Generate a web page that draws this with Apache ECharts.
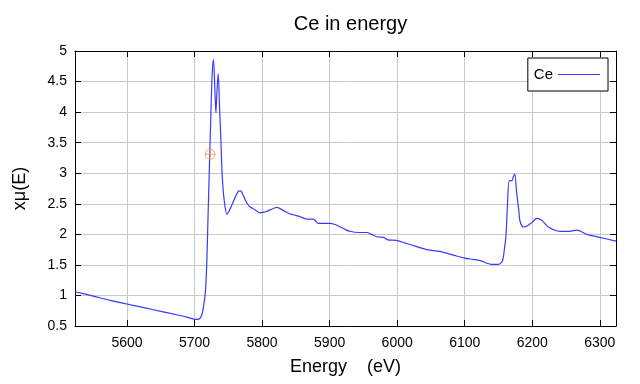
<!DOCTYPE html>
<html><head><meta charset="utf-8">
<script src="https://cdn.jsdelivr.net/npm/echarts@6/dist/echarts.min.js"></script>
<style>html,body{margin:0;padding:0;background:#fff}#c{width:640px;height:384px}</style>
</head><body><div id="c"></div>
<script>
const energy = [5523,5550,5575,5600,5625,5650,5675,5690,5700,5705,5710,5713,5716,5718,5720,5722,5724,5726,5728,5730,5731.6,5733,5735,5737,5739,5741,5744,5748,5752,5758,5764,5768,5772,5777,5782,5790,5797,5805,5812,5822,5830,5838,5846,5856,5866,5872,5876,5883,5891,5901,5908,5916,5923,5930,5943,5955,5962,5970,5980,5986,5999,6014,6029,6044,6063,6083,6100,6112,6123,6140,6150,6155,6157,6159,6161,6163,6166,6170,6172,6174,6177,6180,6182,6187,6193,6200,6207,6214,6224,6241,6255,6266,6281,6300,6324];
const mu = [1.06,0.99,0.92,0.86,0.80,0.74,0.68,0.64,0.61,0.61,0.66,0.80,1.05,1.5,2.3,3.1,3.9,4.6,4.86,4.4,3.99,4.3,4.63,4.1,3.54,2.95,2.55,2.33,2.40,2.55,2.69,2.71,2.64,2.52,2.45,2.40,2.35,2.37,2.40,2.44,2.40,2.35,2.32,2.29,2.25,2.25,2.25,2.18,2.18,2.18,2.16,2.12,2.08,2.05,2.03,2.03,2.00,1.96,1.95,1.91,1.90,1.85,1.80,1.75,1.72,1.66,1.61,1.59,1.57,1.51,1.51,1.55,1.61,1.78,1.96,2.4,2.88,2.88,2.94,2.99,2.67,2.40,2.21,2.12,2.14,2.20,2.26,2.23,2.12,2.05,2.05,2.07,2.00,1.95,1.89];
const markerE = [5723];
const markerMu = [3.31];
const seriesName = 'Ce';
const titleText = 'Ce in energy';
const xName = 'Energy    (eV)';
const yName = 'xμ(E)';

const lineData = energy.map((e,i)=>[e,mu[i]]);
const markData = markerE.map((e,i)=>[e,markerMu[i]]);
const font = 'Liberation Sans, Arial, sans-serif';
const chart = echarts.init(document.getElementById('c'));
const gridLine = {show:true, lineStyle:{color:'#c8c8c8', width:1}};
chart.setOption({
  animation:false,
  title:{text:titleText, left:345.5, top:9, textAlign:'center', textStyle:{fontFamily:font, fontSize:20, fontWeight:'normal', color:'#000'}},
  legend:{data:[seriesName], right:32, top:58, orient:'vertical', align:'right', backgroundColor:'#fff', borderColor:'#000', borderWidth:1, borderRadius:0, padding:[9,8,9,6], itemGap:0,
    icon:'rect', itemWidth:42, itemHeight:1, textStyle:{fontFamily:font, fontSize:15, color:'#000'}},
  grid:{left:75, right:24, top:51, bottom:58, containLabel:false},
  xAxis:[{type:'value', min:5523, max:6324, splitNumber:8, position:'bottom', name:xName, nameLocation:'middle', nameGap:32,
    nameTextStyle:{fontFamily:font, fontSize:18, color:'#000'},
    axisLine:{show:true, onZero:false, lineStyle:{color:'#000', width:1}},
    axisTick:{show:true, inside:true, length:6, lineStyle:{color:'#000'}},
    axisLabel:{fontFamily:font, fontSize:14, color:'#000', margin:10, showMinLabel:false, showMaxLabel:false, formatter:v=>String(v)},
    splitLine:gridLine},
   {type:'value', min:5523, max:6324, splitNumber:8, position:'top',
    axisLine:{show:true, onZero:false, lineStyle:{color:'#000', width:1}},
    axisTick:{show:true, inside:true, length:6, lineStyle:{color:'#000'}},
    axisLabel:{show:false}, splitLine:{show:false}}],
  yAxis:[{type:'value', min:0.5, max:5, interval:0.5, position:'left', name:yName, nameLocation:'middle', nameGap:46, nameRotate:90,
    nameTextStyle:{fontFamily:font, fontSize:18, color:'#000'},
    axisLine:{show:true, onZero:false, lineStyle:{color:'#000', width:1}},
    axisTick:{show:true, inside:true, length:6, lineStyle:{color:'#000'}},
    axisLabel:{fontFamily:font, fontSize:14, color:'#000', margin:8},
    splitLine:gridLine},
   {type:'value', min:0.5, max:5, interval:0.5, position:'right',
    axisLine:{show:true, onZero:false, lineStyle:{color:'#000', width:1}},
    axisTick:{show:true, inside:true, length:6, lineStyle:{color:'#000'}},
    axisLabel:{show:false}, splitLine:{show:false}}],
  series:[
    {name:seriesName, type:'line', data:lineData, showSymbol:false, symbol:'none', smooth:0.3,
     lineStyle:{color:'#3a3aff', width:1.2}, itemStyle:{color:'#3a3aff'}},
    {name:'marker', type:'scatter', data:markData, symbol:'path://M10,0 A10,10 0 1,1 -10,0 A10,10 0 1,1 10,0 Z M-10,0 L10,0 M0,-10 L0,10', symbolSize:10,
     itemStyle:{color:'rgba(0,0,0,0)', borderColor:'#f0904a', borderWidth:1}, z:5}
  ]
});
</script></body></html>
